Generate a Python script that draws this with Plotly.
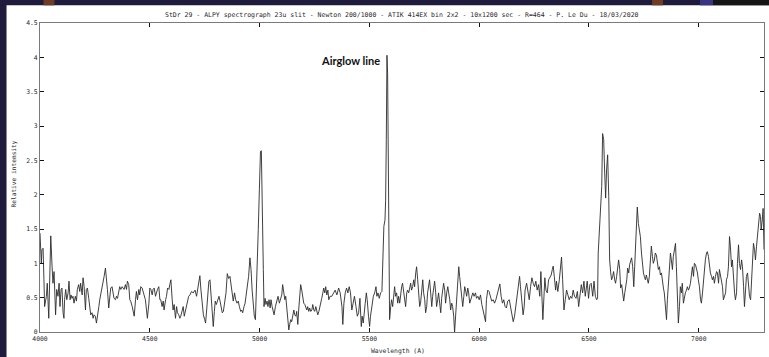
import plotly.graph_objects as go

# ---- data (wavelength in A, relative intensity) ----
wl_blue = [4000, 4003, 4006, 4009, 4014, 4018, 4021, 4029, 4033, 4040, 4044, 4049, 4055, 4059, 4064, 4067,
           4071, 4076, 4082, 4087, 4091, 4096, 4100, 4105, 4109, 4112, 4117, 4122, 4128, 4132, 4137, 4141,
           4146, 4150, 4155, 4161, 4166, 4170, 4176, 4181, 4185, 4192, 4196, 4201, 4207, 4211, 4216, 4222,
           4226, 4231, 4237, 4242, 4246, 4252, 4257, 4261, 4268, 4272, 4280, 4287, 4292, 4298, 4302, 4307,
           4313, 4318, 4322, 4328, 4333, 4337, 4344, 4348, 4353, 4359, 4363, 4368, 4374, 4378, 4383, 4389,
           4394, 4398, 4404, 4409, 4413, 4420, 4424, 4429, 4435, 4439, 4444, 4450, 4454, 4459, 4465, 4470,
           4474, 4480, 4485, 4489, 4496, 4500, 4505, 4511, 4515, 4520, 4526, 4530, 4535, 4541, 4546, 4550,
           4556, 4561, 4565, 4572, 4576, 4581, 4587, 4591, 4596, 4602, 4606, 4611, 4617, 4622, 4626, 4632,
           4637, 4641, 4648, 4652, 4657]
int_blue = [1.44, 1.24, 1.00, 1.20, 1.22, 0.76, 0.37, 0.52, 0.71, 0.20, 0.66, 1.40, 0.95, 0.71, 0.88, 0.47,
            0.25, 0.62, 0.52, 0.71, 0.37, 0.62, 0.64, 0.28, 0.20, 0.47, 0.62, 0.47, 0.57, 0.74, 0.47, 0.54,
            0.49, 0.52, 0.42, 0.52, 0.45, 0.62, 0.69, 0.59, 0.71, 0.54, 0.79, 0.66, 0.32, 0.62, 0.64, 0.49,
            0.32, 0.25, 0.28, 0.20, 0.25, 0.23, 0.13, 0.25, 0.37, 0.47, 0.59, 0.71, 0.81, 0.93, 0.81, 0.62,
            0.35, 0.59, 0.64, 0.66, 0.57, 0.49, 0.47, 0.52, 0.49, 0.62, 0.66, 0.62, 0.66, 0.64, 0.62, 0.69,
            0.62, 0.74, 0.69, 0.47, 0.45, 0.37, 0.30, 0.23, 0.47, 0.59, 0.47, 0.62, 0.54, 0.66, 0.64, 0.59,
            0.52, 0.47, 0.32, 0.20, 0.42, 0.64, 0.62, 0.54, 0.62, 0.64, 0.52, 0.57, 0.62, 0.66, 0.47, 0.47,
            0.37, 0.45, 0.32, 0.47, 0.52, 0.64, 0.62, 0.69, 0.76, 0.47, 0.32, 0.40, 0.20, 0.37, 0.28, 0.25,
            0.20, 0.23, 0.32, 0.37, 0.23]

wl_oiii = [4665, 4671, 4677, 4683, 4690, 4698, 4706, 4713, 4721, 4728, 4733, 4739, 4744, 4750, 4754, 4759,
           4763, 4769, 4774, 4779, 4785, 4789, 4794, 4798, 4803, 4809, 4815, 4820, 4826, 4830, 4835, 4841,
           4847, 4853, 4859, 4865, 4870, 4876, 4880, 4886, 4891, 4897, 4903, 4908, 4914, 4918, 4923, 4929,
           4934, 4938, 4944, 4950, 4956, 4961, 4966, 4972, 4976, 4981, 4985, 4990, 4994, 4999, 5004, 5008,
           5011, 5014, 5017, 5020, 5025, 5029, 5034, 5038, 5043, 5048, 5052, 5057, 5061, 5066, 5072, 5078,
           5084, 5090, 5096, 5101, 5105, 5110, 5115, 5119, 5124, 5128, 5133, 5137, 5142, 5146, 5151, 5156,
           5160, 5165, 5169, 5174, 5178, 5183, 5187, 5192, 5197, 5201, 5206, 5210, 5215, 5219, 5224, 5228,
           5233, 5238, 5242, 5247, 5251, 5256, 5260, 5265, 5270, 5274, 5279, 5283, 5288, 5292, 5297, 5301,
           5306, 5311, 5315, 5321]
int_oiii = [0.37, 0.45, 0.52, 0.54, 0.59, 0.57, 0.61, 0.52, 0.66, 0.82, 0.61, 0.37, 0.25, 0.18, 0.13, 0.32,
            0.52, 0.74, 0.76, 0.52, 0.30, 0.08, 0.30, 0.45, 0.40, 0.47, 0.52, 0.45, 0.30, 0.28, 0.30, 0.42,
            0.57, 0.85, 0.78, 0.81, 0.66, 0.57, 0.45, 0.57, 0.47, 0.42, 0.45, 0.37, 0.30, 0.32, 0.28, 0.37,
            0.42, 0.52, 0.66, 0.81, 1.08, 0.91, 0.61, 0.37, 0.23, 0.18, 0.52, 0.91, 1.49, 2.07, 2.63, 2.64,
            2.21, 1.54, 0.91, 0.37, 0.49, 0.40, 0.45, 0.37, 0.47, 0.35, 0.47, 0.37, 0.32, 0.25, 0.37, 0.47,
            0.52, 0.42, 0.47, 0.54, 0.69, 0.54, 0.47, 0.52, 0.30, 0.18, 0.03, 0.11, 0.18, 0.15, 0.23, 0.32,
            0.25, 0.23, 0.30, 0.11, 0.32, 0.52, 0.69, 0.61, 0.49, 0.42, 0.40, 0.35, 0.32, 0.37, 0.30, 0.35,
            0.30, 0.32, 0.40, 0.32, 0.30, 0.37, 0.30, 0.25, 0.30, 0.35, 0.42, 0.49, 0.57, 0.64, 0.57, 0.66,
            0.54, 0.61, 0.47, 0.52]

wl_airglow = [5329, 5337, 5344, 5352, 5360, 5367, 5375, 5379, 5384, 5390, 5396, 5402, 5408, 5414, 5420, 5426,
              5432, 5439, 5445, 5451, 5457, 5463, 5467, 5472, 5477, 5481, 5486, 5490, 5496, 5501, 5505, 5512,
              5518, 5524, 5530, 5534, 5539, 5545, 5551, 5557, 5562, 5566, 5571, 5574, 5577, 5580, 5583, 5586,
              5589, 5592, 5597, 5601, 5606, 5610, 5615, 5619, 5624, 5629, 5633, 5638, 5642, 5647, 5651, 5656,
              5660, 5665, 5670, 5674, 5679, 5683, 5688, 5692, 5697, 5702, 5706, 5711, 5715, 5720, 5724, 5729,
              5733, 5738, 5743, 5747, 5752, 5756, 5761, 5765, 5770, 5774, 5779, 5784, 5788, 5793, 5797, 5802,
              5806, 5811, 5815, 5820, 5825, 5829, 5834, 5838, 5843, 5847, 5852, 5857, 5861, 5866, 5870, 5875,
              5879, 5884, 5888, 5893, 5898, 5902, 5907, 5911, 5916, 5920, 5925, 5930, 5934, 5939, 5943, 5948,
              5952, 5957, 5961, 5966, 5971, 5977, 5983]
int_airglow = [0.52, 0.57, 0.61, 0.54, 0.64, 0.57, 0.37, 0.11, 0.42, 0.57, 0.64, 0.57, 0.66, 0.57, 0.32, 0.42,
               0.52, 0.37, 0.23, 0.28, 0.49, 0.08, 0.23, 0.13, 0.37, 0.42, 0.57, 0.47, 0.23, 0.08, 0.23, 0.42,
               0.52, 0.57, 0.66, 0.52, 0.57, 0.49, 0.57, 0.59, 1.39, 1.54, 1.63, 1.92, 2.80, 4.03, 3.76, 2.80,
               1.25, 0.18, 0.37, 0.47, 0.37, 0.47, 0.66, 0.52, 0.57, 0.42, 0.52, 0.42, 0.57, 0.66, 0.71, 0.57,
               0.42, 0.37, 0.57, 0.61, 0.57, 0.66, 0.71, 0.61, 0.66, 0.76, 0.66, 0.86, 0.95, 0.76, 0.57, 0.37,
               0.42, 0.66, 0.76, 0.57, 0.47, 0.28, 0.37, 0.57, 0.66, 0.76, 0.57, 0.37, 0.52, 0.66, 0.74, 0.57,
               0.37, 0.47, 0.57, 0.42, 0.28, 0.49, 0.61, 0.71, 0.61, 0.42, 0.57, 0.66, 0.57, 0.47, 0.32, 0.42,
               0.37, 0.23, 0.00, 0.28, 0.57, 0.86, 0.95, 0.81, 0.66, 0.57, 0.37, 0.52, 0.66, 0.59, 0.52, 0.64,
               0.57, 0.42, 0.47, 0.52, 0.57, 0.52, 0.57]

wl_orange = [5988, 5994, 6000, 6006, 6012, 6018, 6024, 6029, 6033, 6039, 6045, 6051, 6057, 6064, 6070, 6076,
             6082, 6088, 6094, 6100, 6106, 6112, 6118, 6124, 6130, 6137, 6143, 6149, 6155, 6161, 6167, 6173,
             6179, 6184, 6188, 6194, 6200, 6205, 6209, 6216, 6222, 6228, 6234, 6240, 6246, 6252, 6258, 6264,
             6270, 6276, 6281, 6285, 6290, 6295, 6299, 6304, 6310, 6316, 6322, 6328, 6333, 6337, 6342, 6348,
             6352, 6358, 6365, 6371, 6375, 6380, 6386, 6392, 6398, 6404, 6410, 6416, 6422, 6428, 6434, 6441,
             6447, 6453, 6459, 6465, 6471, 6477, 6483, 6488, 6492, 6498, 6504, 6510, 6517, 6523, 6529, 6535,
             6539]
int_orange = [0.49, 0.52, 0.47, 0.54, 0.40, 0.32, 0.25, 0.15, 0.47, 0.61, 0.59, 0.52, 0.45, 0.47, 0.42, 0.47,
              0.54, 0.64, 0.70, 0.52, 0.42, 0.47, 0.37, 0.35, 0.45, 0.47, 0.37, 0.30, 0.15, 0.23, 0.37, 0.52,
              0.66, 0.81, 0.66, 0.47, 0.25, 0.37, 0.61, 0.71, 0.59, 0.47, 0.66, 0.79, 0.71, 0.66, 0.74, 0.61,
              0.69, 0.52, 0.88, 0.47, 0.18, 0.52, 0.79, 0.61, 0.57, 0.76, 0.81, 0.83, 0.91, 0.96, 0.81, 0.61,
              0.74, 0.59, 0.76, 0.91, 1.09, 0.76, 0.32, 0.47, 0.61, 0.54, 0.47, 0.52, 0.49, 0.61, 0.52, 0.49,
              0.59, 0.37, 0.52, 0.69, 0.57, 0.74, 0.52, 0.71, 0.74, 0.49, 0.69, 0.71, 0.52, 0.74, 0.52, 0.47,
              0.49]

wl_red = [6542, 6549, 6553, 6558, 6562, 6567, 6571, 6576, 6580, 6585, 6590, 6594, 6599, 6603, 6608, 6612,
          6617, 6621, 6626, 6631, 6635, 6640, 6644, 6649, 6653, 6658, 6663, 6667, 6672, 6676, 6681, 6685,
          6690, 6694, 6699, 6704, 6708, 6713, 6717, 6720, 6725, 6729, 6734, 6739, 6743, 6748, 6752, 6757,
          6761, 6766, 6770, 6775, 6780, 6784, 6789, 6793, 6798, 6802, 6807, 6811, 6816, 6821, 6825, 6830,
          6834, 6839, 6843, 6848, 6853, 6857, 6862, 6866, 6871, 6875, 6880, 6884, 6889, 6894, 6898, 6903,
          6907, 6912, 6916, 6921, 6925, 6930, 6935, 6939, 6944, 6948, 6953, 6957, 6962, 6967, 6971, 6976,
          6980, 6985, 6989, 6994, 6998, 7003, 7008, 7012, 7017, 7021, 7026, 7030, 7035, 7039, 7044, 7049,
          7053, 7058, 7062, 7067, 7071, 7076, 7081, 7085, 7090, 7094, 7099, 7103, 7108, 7112, 7117, 7122,
          7126, 7131, 7135, 7140, 7144, 7149, 7153, 7158, 7163, 7167, 7172, 7176, 7181, 7185, 7190, 7195,
          7199, 7204, 7208, 7213, 7217, 7222, 7226, 7231, 7236, 7240, 7245, 7249, 7254, 7258, 7263, 7268,
          7272, 7277, 7281, 7284, 7289, 7293, 7297]
int_red = [1.15, 1.58, 1.63, 2.12, 2.89, 2.80, 2.36, 1.95, 2.36, 2.58, 1.97, 1.05, 0.86, 0.76, 0.81, 0.88,
           0.76, 0.71, 0.81, 0.95, 1.05, 0.91, 0.64, 0.69, 0.57, 0.45, 0.57, 0.64, 0.76, 0.93, 0.86, 0.98,
           1.03, 1.08, 0.95, 0.66, 0.95, 1.39, 1.68, 1.82, 1.58, 1.49, 1.39, 1.15, 1.00, 0.86, 0.81, 0.76,
           0.83, 0.76, 0.71, 0.81, 1.05, 1.25, 1.10, 1.00, 1.05, 1.15, 1.12, 1.05, 0.91, 0.95, 0.83, 0.86,
           0.71, 0.64, 0.57, 0.37, 0.18, 0.47, 0.76, 0.95, 1.15, 1.05, 0.91, 1.10, 1.20, 1.29, 0.95, 0.52,
           0.13, 0.37, 0.66, 0.57, 0.71, 0.42, 0.52, 0.57, 0.61, 0.66, 0.61, 0.64, 0.71, 0.86, 0.95, 0.81,
           1.00, 0.98, 0.93, 0.86, 0.76, 0.66, 0.47, 0.42, 0.57, 0.76, 0.95, 1.05, 1.15, 1.17, 1.10, 0.95,
           0.86, 0.81, 0.76, 0.81, 0.71, 0.81, 0.88, 0.86, 0.71, 0.91, 0.81, 0.76, 0.66, 0.47, 0.52, 0.57,
           0.76, 0.81, 0.95, 1.39, 1.25, 0.95, 1.05, 0.76, 0.57, 0.47, 0.57, 1.00, 1.27, 1.00, 0.91, 1.05,
           0.95, 0.66, 0.37, 0.61, 0.81, 0.86, 0.71, 0.52, 0.47, 0.76, 1.10, 1.29, 1.20, 1.05, 1.25, 1.42,
           1.54, 1.73, 1.68, 1.49, 1.63, 1.80, 1.20]

x_ticks = [4000, 4500, 5000, 5500, 6000, 6500, 7000]
y_ticks = [0, 0.5, 1, 1.5, 2, 2.5, 3, 3.5, 4, 4.5]
x_range = [4000, 7297]
y_range = [0, 4.5]

title_text = ("StDr 29 - ALPY spectrograph 23u slit - Newton 200/1000 - ATIK 414EX bin 2x2 - "
              "10x1200 sec - R=464 - P. Le Du - 18/03/2020")
x_title = "Wavelength (A)"
y_title = "Relative intensity"
note_text = "Airglow line"
note_pos = (5557, 3.96)

wavelength = wl_blue + wl_oiii + wl_airglow + wl_orange + wl_red
intensity = int_blue + int_oiii + int_airglow + int_orange + int_red

# ---- figure ----
MONO = "DejaVu Sans Mono"
TXT = "#2a2a2a"
W, H = 769, 357
L, R, T, B = 39.5, 5, 22.7, 24.7
pw, ph = W - L - R, H - T - B


def xp(px):
    return (px - L) / pw


def yp(py):
    return (H - B - py) / ph


fig = go.Figure()
fig.add_trace(go.Scatter(x=wavelength, y=intensity, mode="lines",
                         line=dict(color="#2b2b2b", width=0.9), hoverinfo="skip"))

axis_common = dict(showgrid=False, zeroline=False, showline=True, linecolor="#7a7a7a", linewidth=1,
                   ticks="inside", ticklen=4, tickcolor="#111", tickwidth=1, mirror="ticks",
                   tickfont=dict(family=MONO, size=6.4, color=TXT))
fig.update_xaxes(range=x_range, tickvals=x_ticks, tickformat="d", **axis_common)
fig.update_yaxes(range=y_range, tickvals=y_ticks, **axis_common)

dark = "#1e1b3d"
shapes = [
    # white page area of the screenshot (the dark frame is the paper background)
    dict(type="rect", xref="paper", yref="paper", x0=xp(6), x1=xp(W + 2), y0=yp(H + 2), y1=yp(5),
         fillcolor="white", line_width=0, layer="below"),
    dict(type="rect", xref="paper", yref="paper", x0=xp(43), x1=xp(54), y0=yp(5), y1=yp(-1),
         fillcolor="#6e3b24", line_width=0, layer="below"),
    dict(type="rect", xref="paper", yref="paper", x0=xp(652), x1=xp(663), y0=yp(5), y1=yp(-1),
         fillcolor="#6e3b24", line_width=0, layer="below"),
    dict(type="rect", xref="paper", yref="paper", x0=xp(700), x1=xp(713), y0=yp(5), y1=yp(-1),
         fillcolor="#3a3580", line_width=0, layer="below"),
    dict(type="rect", xref="paper", yref="paper", x0=xp(713), x1=xp(W + 2), y0=yp(5), y1=yp(-1),
         fillcolor="#151515", line_width=0, layer="below"),
]

annotations = [
    dict(text=title_text, xref="paper", yref="paper", x=0.5, y=yp(15), xanchor="center", yanchor="middle",
         showarrow=False, font=dict(family=MONO, size=6.5, color=TXT)),
    dict(text=x_title, xref="paper", yref="paper", x=xp(398), y=yp(351), xanchor="center", yanchor="middle",
         showarrow=False, font=dict(family=MONO, size=6.4, color=TXT)),
    dict(text=y_title, xref="paper", yref="paper", x=xp(13), y=yp(174), xanchor="center", yanchor="middle",
         textangle=-90, showarrow=False, font=dict(family=MONO, size=6.2, color=TXT)),
    dict(text=note_text, x=note_pos[0], y=note_pos[1], xref="x", yref="y", xanchor="right", yanchor="middle",
         showarrow=False, font=dict(family="Lato", size=11, color="#111", weight="bold")),
]

fig.update_layout(width=W, height=H, margin=dict(l=L, r=R, t=T, b=B, pad=0, autoexpand=False),
                  paper_bgcolor=dark, plot_bgcolor="rgba(0,0,0,0)", showlegend=False,
                  shapes=shapes, annotations=annotations)

fig.write_html("out.html", config={"displayModeBar": False, "staticPlot": True},
               post_script="document.body.style.margin='0';document.body.style.padding='0';")
